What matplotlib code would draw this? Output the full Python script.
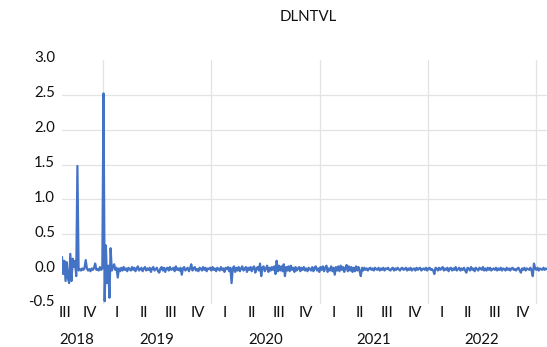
import numpy as np
import pandas as pd
import matplotlib
matplotlib.use("Agg")
import matplotlib.pyplot as plt
import matplotlib.dates as mdates
import matplotlib.transforms as mtransforms

plt.rcParams['font.family'] = ['Lato', 'DejaVu Sans']

# series, one value every 4 days from 2018-08-15
start_date = "2018-08-15"
dlntvl = [
    0.17, -0.07, 0.12, -0.17, 0.10, -0.13, -0.20, 0.22, -0.17, 0.15,
    0.03, 0.12, -0.10, 1.48, -0.02, 0.00, -0.02, 0.01, -0.01, 0.02,
    0.13, 0.01, -0.02, 0.00, -0.03, 0.01, -0.01, 0.02, 0.08, -0.01,
    0.00, -0.02, 0.03, -0.01, 0.01, 2.52, -0.46, 0.34, -0.20, 0.05,
    -0.41, 0.30, -0.02, 0.03, 0.07, -0.01, 0.02, -0.12, 0.01, -0.03,
    0.02, -0.02, 0.03, -0.01, 0.01, -0.03, 0.02, 0.00, -0.02, 0.03,
    -0.01, 0.02, -0.03, 0.01, 0.04, -0.02, 0.00, 0.02, -0.03, 0.01,
    0.03, -0.02, 0.01, -0.01, 0.02, -0.04, 0.01, 0.03, -0.02, 0.00,
    0.02, -0.03, -0.05, 0.01, 0.03, -0.02, 0.02, -0.04, 0.01, 0.02,
    -0.02, 0.03, -0.01, 0.00, 0.02, -0.03, 0.04, -0.01, 0.01, -0.02,
    0.02, -0.08, 0.01, 0.03, -0.02, 0.00, 0.02, -0.03, 0.01, 0.07,
    -0.02, 0.01, 0.03, -0.02, 0.00, -0.03, 0.02, 0.01, -0.02, 0.03,
    -0.01, 0.02, -0.03, 0.01, 0.00, 0.02, -0.02, 0.03, -0.01, 0.01,
    -0.03, 0.02, 0.00, -0.02, 0.03, -0.01, 0.01, -0.04, 0.02, 0.00,
    0.03, -0.03, 0.02, -0.20, 0.01, 0.04, -0.04, 0.02, -0.02, 0.03,
    -0.03, 0.01, 0.04, -0.02, 0.00, 0.03, -0.04, 0.02, -0.01, 0.03,
    -0.03, 0.02, 0.04, -0.05, 0.01, 0.03, -0.02, 0.08, -0.10, 0.02,
    0.04, -0.03, 0.01, 0.05, -0.04, 0.02, -0.02, 0.03, -0.01, 0.04,
    -0.07, 0.12, -0.03, 0.05, -0.02, 0.04, -0.03, 0.07, -0.10, 0.03,
    -0.02, 0.04, -0.03, 0.05, -0.01, 0.02, -0.04, 0.03, -0.02, 0.01,
    0.03, -0.03, 0.02, -0.01, 0.03, -0.02, 0.01, -0.03, 0.02, 0.00,
    -0.02, 0.03, -0.03, 0.02, 0.04, -0.02, 0.01, -0.04, 0.03, -0.01,
    0.04, -0.03, 0.02, 0.05, -0.04, 0.01, -0.02, 0.04, -0.03, 0.02,
    -0.08, 0.03, -0.02, 0.04, -0.03, 0.05, -0.01, 0.03, -0.04, 0.02,
    0.06, -0.03, 0.04, -0.02, 0.03, -0.04, 0.02, -0.03, 0.04, -0.02,
    0.03, -0.03, -0.10, 0.02, -0.02, 0.02, -0.01, 0.01, -0.02, 0.01,
    0.02, -0.01, 0.01, -0.02, 0.02, 0.00, -0.01, 0.02, -0.02, 0.01,
    -0.01, 0.02, -0.02, 0.01, 0.00, 0.02, -0.01, -0.02, 0.01, 0.02,
    -0.02, 0.01, -0.01, 0.02, 0.00, -0.02, 0.01, 0.02, -0.01, 0.00,
    0.02, -0.02, 0.01, -0.01, 0.02, -0.02, 0.00, 0.01, -0.02, 0.02,
    -0.01, 0.01, 0.02, -0.02, 0.00, 0.01, -0.01, 0.02, -0.02, 0.01,
    0.02, -0.01, 0.00, -0.02, -0.07, 0.02, 0.01, -0.02, 0.02, -0.01,
    0.01, 0.03, -0.02, 0.01, -0.01, 0.02, -0.03, 0.01, 0.02, -0.02,
    0.01, -0.01, 0.03, -0.02, 0.00, 0.02, -0.02, 0.01, -0.01, 0.02,
    -0.02, -0.05, 0.02, 0.01, -0.02, 0.03, -0.01, 0.01, -0.03, 0.02,
    0.00, -0.02, 0.02, 0.01, -0.01, 0.03, -0.02, 0.01, -0.02, 0.02,
    -0.01, 0.02, -0.02, 0.00, 0.01, -0.01, 0.02, -0.02, 0.01, -0.01,
    0.02, -0.02, 0.01, 0.00, -0.02, 0.02, -0.01, 0.01, -0.02, 0.01,
    0.02, -0.01, 0.00, -0.02, 0.01, 0.02, -0.02, -0.05, 0.01, -0.01,
    0.02, -0.02, 0.01, 0.00, -0.01, 0.02, -0.02, -0.10, 0.08, 0.01,
    -0.01, 0.02, -0.02, 0.01, 0.00, -0.01, 0.02, -0.01, 0.01, 0.00,
]
dates = pd.date_range(start_date, periods=len(dlntvl), freq="4D")

yticks = [-0.5, 0.0, 0.5, 1.0, 1.5, 2.0, 2.5, 3.0]
years = [2018, 2019, 2020, 2021, 2022]
quarter_names = ["I", "II", "III", "IV"]

fig = plt.figure(figsize=(5.47, 3.47), dpi=100)
ax = fig.add_axes([62 / 547, 43 / 347, 485 / 547, 244 / 347])

ax.plot(dates, dlntvl, color="#4472C4", lw=1.6, zorder=3)

ax.set_xlim(dates[0], dates[-1])
ax.set_ylim(-0.5, 3.0)
ax.set_yticks(yticks)
ax.set_yticklabels([f"{v:.1f}" for v in yticks], fontsize=10.8, color="#111111")
ax.tick_params(axis="y", length=0, pad=5)
# labels sit a little above their gridlines
off = mtransforms.ScaledTranslation(0, 3 / 100, fig.dpi_scale_trans)
for lab in ax.get_yticklabels():
    lab.set_transform(lab.get_transform() + off)

year_starts = pd.to_datetime([f"{y}-01-01" for y in range(2019, 2024)])
ax.set_xticks(year_starts)
ax.set_xticklabels([])
ax.tick_params(axis="x", length=0)

ax.grid(True, color="#E3E3E3", lw=0.9, zorder=0)
ygl = ax.get_ygridlines()
ygl[0].set_visible(False)
ygl[-1].set_visible(False)
for s in ax.spines.values():
    s.set_visible(False)

# quarter and year labels below the plot
trans = mtransforms.blended_transform_factory(ax.transData, ax.transAxes)
for q in pd.period_range("2018Q3", "2023Q1", freq="Q"):
    mid = q.start_time + (q.end_time - q.start_time) / 2
    if mid < dates[0] + pd.Timedelta(days=10):
        mid = dates[0] + pd.Timedelta(days=10)
    ax.text(mdates.date2num(mid), -0.037, quarter_names[q.quarter - 1],
            transform=trans, ha="center", va="center", fontsize=10.8,
            color="#111111", clip_on=False)
for y in years:
    lo = max(pd.Timestamp(f"{y}-01-01"), dates[0])
    hi = pd.Timestamp(f"{y}-12-31")
    mid = lo + (hi - lo) / 2
    if y == 2018:
        mid = pd.Timestamp("2018-10-05")
    ax.text(mdates.date2num(mid), -0.148, str(y), transform=trans,
            ha="center", va="center", fontsize=10.8, color="#111111",
            clip_on=False)

fig.text(308 / 547, 1 - 17 / 347, "DLNTVL", ha="center", va="center",
         fontsize=10.8, color="#111111")

fig.savefig("out.png", dpi=100)
